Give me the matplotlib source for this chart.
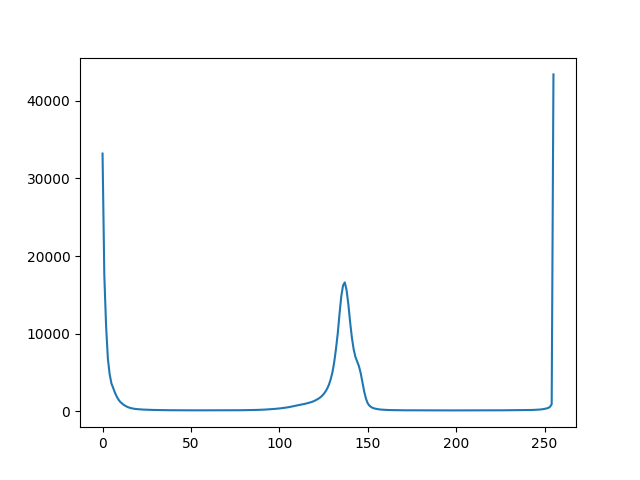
import numpy as np
import matplotlib
matplotlib.use("Agg")
import matplotlib.pyplot as plt

# Pixel intensity histogram counts (0..255)
counts_dark = [33200, 17500, 11000, 6800, 4800, 3600, 3000, 2400, 1900, 1500,
               1200, 1000, 820, 680, 560, 470, 400, 350, 310, 280,
               260, 240, 225, 210, 200, 190, 180, 170, 165, 160,
               155, 150, 145, 140, 138, 135, 132, 130, 128, 126,
               125, 124, 122, 120, 120, 118, 118, 117, 116, 115,
               115, 114, 113, 113, 112, 112, 111, 111, 110, 110,
               110, 110, 109, 110, 112, 112, 113, 115, 117, 118,
               120, 120, 118, 117, 118, 120, 122, 125, 127, 130,
               132, 135, 138, 142, 147, 152, 158, 165, 172, 180,
               190, 200, 212, 225, 240, 255, 272, 290, 310, 332]
counts_mid = [355, 380, 410, 440, 475, 510, 550, 600, 650, 700,
              760, 800, 840, 880, 930, 980, 1040, 1100, 1170, 1250,
              1350, 1470, 1600, 1760, 1950, 2200, 2500, 2900, 3400, 4100,
              5000, 6300, 8000, 10000, 12500, 14800, 16200, 16600, 15600, 13800,
              11500, 9500, 8000, 7000, 6400, 5800, 4900, 3700, 2500, 1600,
              1000, 700, 520, 410, 340, 290, 250, 220, 200, 185]
counts_bright = [170, 160, 150, 145, 140, 135, 130, 127, 125, 122,
                 120, 118, 117, 116, 115, 114, 113, 112, 111, 110,
                 110, 109, 109, 108, 108, 108, 107, 107, 107, 106,
                 106, 106, 106, 105, 105, 105, 105, 105, 105, 105,
                 105, 105, 105, 105, 105, 106, 106, 106, 106, 107,
                 107, 107, 108, 108, 108, 109, 109, 110, 110, 111,
                 112, 113, 114, 115, 116, 117, 118, 120, 122, 124,
                 126, 128, 130, 132, 134, 136, 138, 140, 142, 145,
                 148, 150, 155, 160, 170, 180, 195, 210, 230, 260,
                 300, 350, 420, 550, 900, 43400]

counts = counts_dark + counts_mid + counts_bright
bins = np.arange(len(counts))

fig, ax = plt.subplots(figsize=(6.4, 4.8), dpi=100)
ax.plot(bins, counts)
fig.savefig("out.png")
